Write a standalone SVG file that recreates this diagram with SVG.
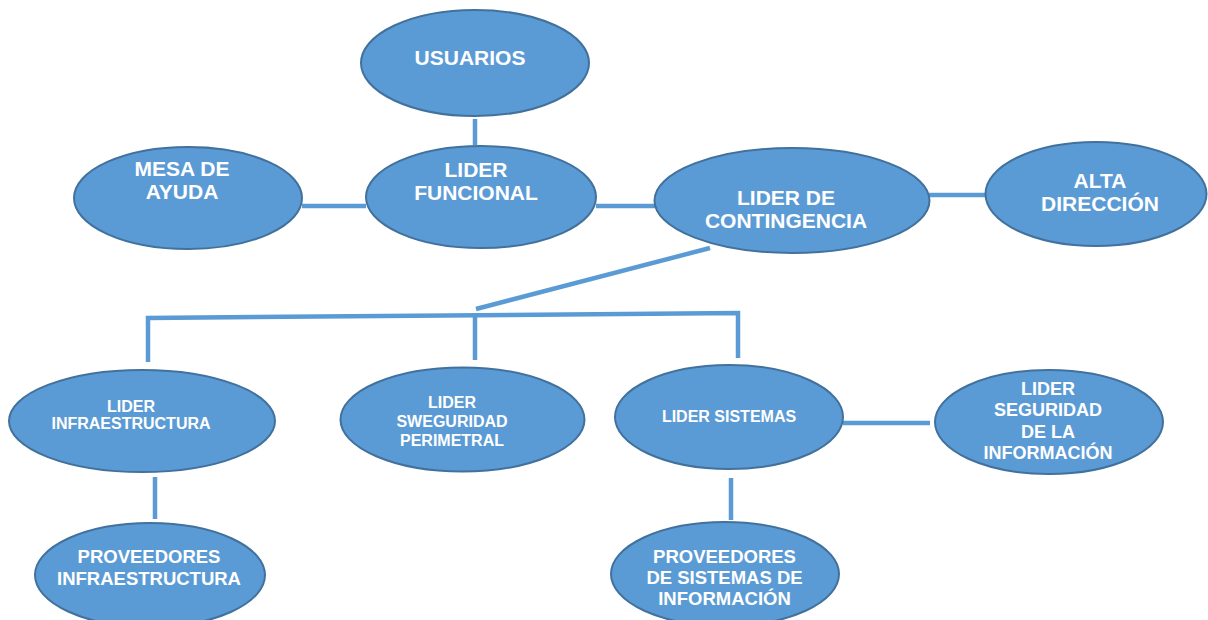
<svg xmlns="http://www.w3.org/2000/svg" width="1208" height="620" viewBox="0 0 1208 620">
<style>
.n ellipse{fill:#5B9BD5;stroke:#41719C;stroke-width:2}
.n text{font-family:"Liberation Sans",Arial,sans-serif;font-weight:bold;fill:#ffffff;text-anchor:middle}
.l{font-size:21px}
.s{font-size:16px}
.m{font-size:18px}
.p{font-size:18.5px}
#connectors line,#connectors polyline{stroke:#5B9BD5;stroke-width:4.5;fill:none}
</style>
<rect width="1208" height="620" fill="#ffffff"/>
<g id="connectors">
<line x1="475" y1="119" x2="475" y2="145"/>
<line x1="302" y1="206" x2="366" y2="206"/>
<line x1="596" y1="206" x2="655" y2="206"/>
<line x1="929" y1="195" x2="986" y2="195"/>
<line x1="710" y1="248" x2="476" y2="309"/>
<polyline points="148,362 148,318 738,313 738,358"/>
<line x1="475" y1="316" x2="475" y2="360"/>
<line x1="155" y1="477" x2="155" y2="519"/>
<line x1="843" y1="423" x2="930" y2="423"/>
<line x1="731" y1="478" x2="731" y2="520"/>
</g>
<g id="usuarios" class="n"><ellipse cx="475" cy="63" rx="114" ry="53"/><text class="l" x="470" y="65">USUARIOS</text></g>
<g id="mesa" class="n"><ellipse cx="188" cy="198" rx="114" ry="51"/><text class="l" x="182" y="176">MESA DE</text><text class="l" x="182" y="199">AYUDA</text></g>
<g id="funcional" class="n"><ellipse cx="481" cy="197" rx="115" ry="51"/><text class="l" x="476" y="177">LIDER</text><text class="l" x="476" y="200">FUNCIONAL</text></g>
<g id="contingencia" class="n"><ellipse cx="792" cy="200.5" rx="137.5" ry="52.5"/><text class="l" x="786" y="205">LIDER DE</text><text class="l" x="786" y="228">CONTINGENCIA</text></g>
<g id="alta" class="n"><ellipse cx="1096" cy="194" rx="110.5" ry="52"/><text class="l" x="1100" y="188">ALTA</text><text class="l" x="1100" y="211">DIRECCIÓN</text></g>
<g id="infra" class="n"><ellipse cx="142" cy="421" rx="133" ry="51"/><text class="s" x="131" y="412">LIDER</text><text class="s" x="131" y="429">INFRAESTRUCTURA</text></g>
<g id="perimetral" class="n"><ellipse cx="462.5" cy="419.5" rx="122" ry="52"/><text class="s" x="452" y="408">LIDER</text><text class="s" x="452" y="427">SWEGURIDAD</text><text class="s" x="452" y="446">PERIMETRAL</text></g>
<g id="sistemas" class="n"><ellipse cx="729" cy="417" rx="114" ry="52"/><text class="s" x="729" y="422">LIDER SISTEMAS</text></g>
<g id="seguridad" class="n"><ellipse cx="1049" cy="422" rx="114" ry="52"/><text class="m" x="1048" y="395">LIDER</text><text class="m" x="1048" y="416">SEGURIDAD</text><text class="m" x="1048" y="437.5">DE LA</text><text class="m" x="1048" y="459">INFORMACIÓN</text></g>
<g id="prov-infra" class="n"><ellipse cx="150" cy="575" rx="115" ry="52"/><text class="p" x="149" y="563">PROVEEDORES</text><text class="p" x="149" y="585">INFRAESTRUCTURA</text></g>
<g id="prov-sis" class="n"><ellipse cx="725" cy="574" rx="114" ry="52"/><text class="p" x="724.5" y="563">PROVEEDORES</text><text class="p" x="724.5" y="584">DE SISTEMAS DE</text><text class="p" x="724.5" y="605">INFORMACIÓN</text></g>
</svg>
